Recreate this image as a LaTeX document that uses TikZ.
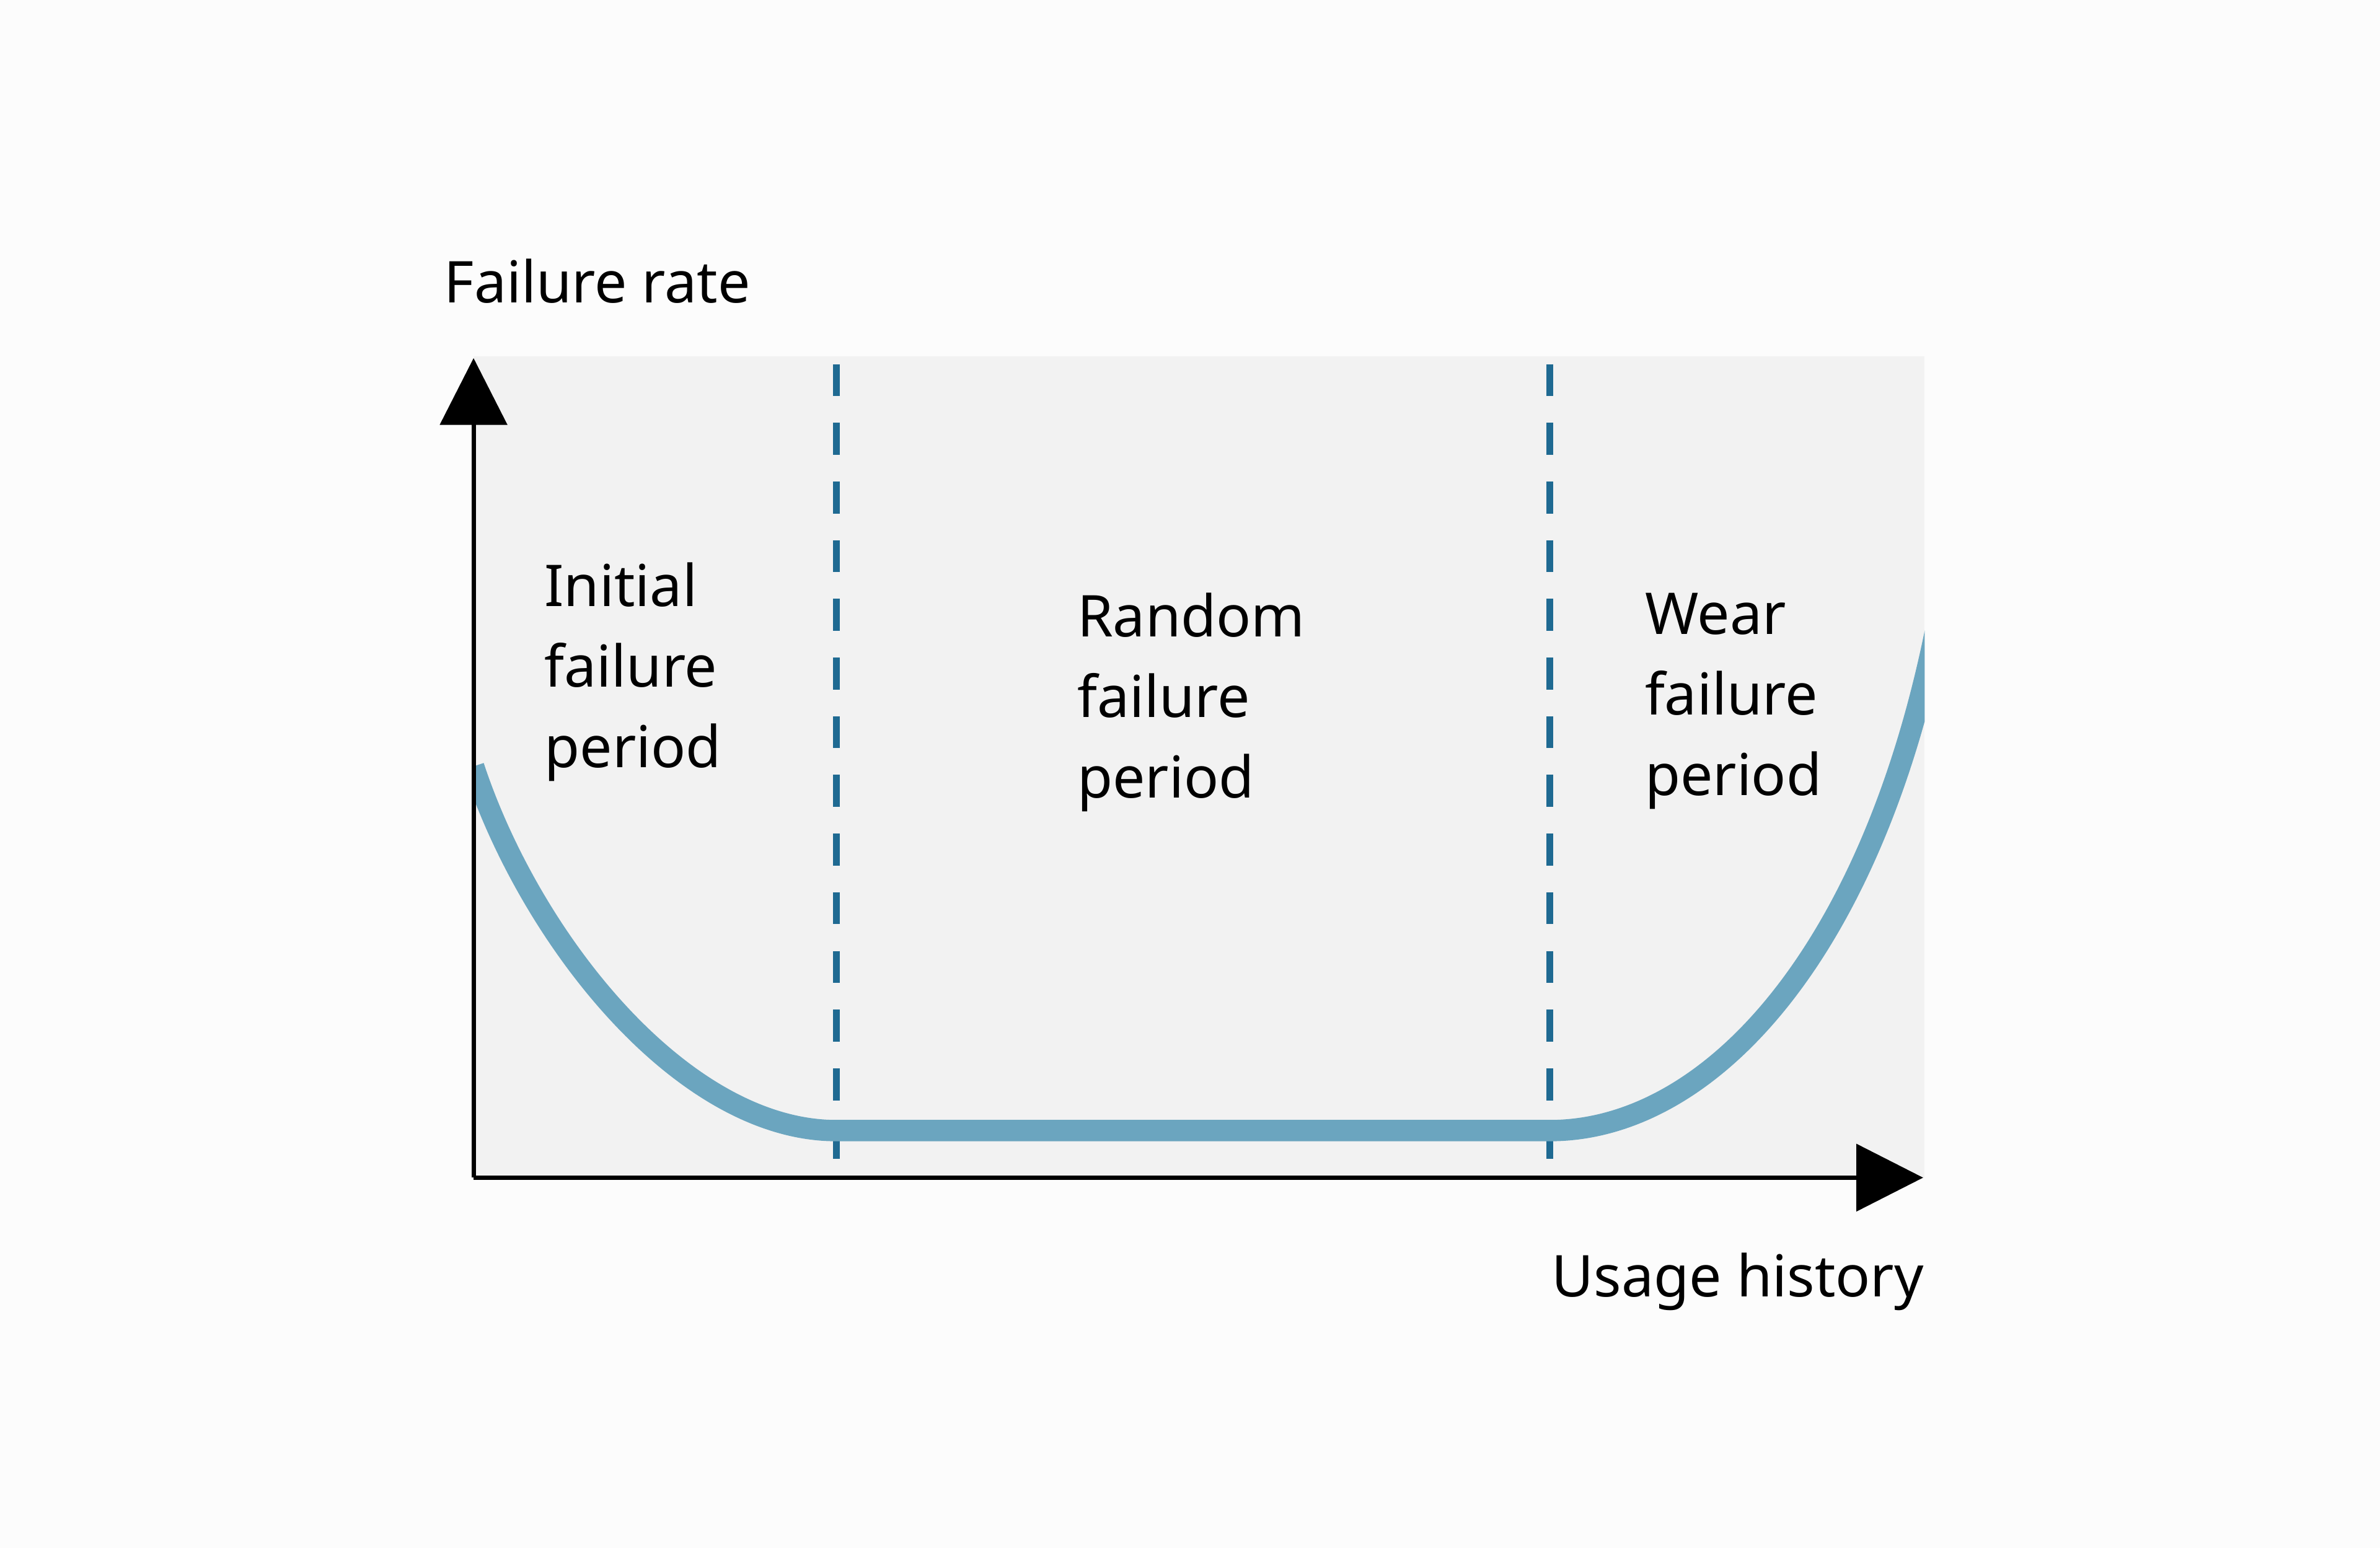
\documentclass[tikz,border=0pt]{standalone}
\usepackage{fontspec}
\setmainfont{Noto Sans}
\usetikzlibrary{arrows.meta}
\definecolor{panel}{HTML}{F2F2F2}
\definecolor{curvecol}{HTML}{6BA5BF}
\definecolor{dashcol}{HTML}{1F6A92}
\begin{document}
\begin{tikzpicture}
 \tikzstyle{lbl}=[inner sep=0, align=left, font=\fontsize{10.8pt}{15.1pt}\selectfont]
 \tikzstyle{axis}=[-{Triangle[length=0.44cm,width=0.44cm]}, thick]
 \tikzstyle{border}=[dashcol, very thick, dash pattern=on 6pt off 5pt]
 %
 \fill[white!99!black] (0,0) rectangle (15.68,10.2);
 \useasboundingbox (0,0) rectangle (15.68,10.2);
 \fill[panel] (3.12,2.44) rectangle (12.68,7.85);
 %
 \coordinate (O) at (3.12,2.44);
 \coordinate (Ytop) at (3.12,7.84);
 \coordinate (Xend) at (12.67,2.44);
 \coordinate (D1t) at (5.51,7.80);
 \coordinate (D1b) at (5.51,2.44);
 \coordinate (D2t) at (10.21,7.80);
 \coordinate (D2b) at (10.21,2.44);
 \coordinate (A) at (3.12,5.15);
 \coordinate (B) at (5.51,2.75);
 \coordinate (C) at (10.21,2.75);
 \coordinate (D) at (12.68,6.0);
 %
 \node[lbl, anchor=north west] (rate) at (2.92,8.50) {Failure rate};
 \node[lbl, anchor=north west] (initial) at (3.58,6.50) {Initial\\failure\\period};
 \node[lbl, anchor=north west] (random) at (7.09,6.30) {Random\\failure\\period};
 \node[lbl, anchor=north west] (wear) at (10.83,6.30) {Wear\\failure\\period};
 \node[lbl, anchor=north east] (usage) at (12.68,1.95) {Usage history};
 %%
 \draw[border] (D1t)--(D1b);
 \draw[border] (D2t)--(D2b);
 \begin{scope}
  \clip (3.12,2.44) rectangle (12.68,7.85);
  \draw[curvecol, line width=4pt] (A) .. controls (3.5,4.0) and (4.5,2.75) .. (B) -- (C)
    .. controls (11.3,2.75) and (12.4,4.0) .. (12.8,6.3);
 \end{scope}
 \draw[axis] (O)--(Ytop);
 \draw[axis] (O)--(Xend);
\end{tikzpicture}
\end{document}
